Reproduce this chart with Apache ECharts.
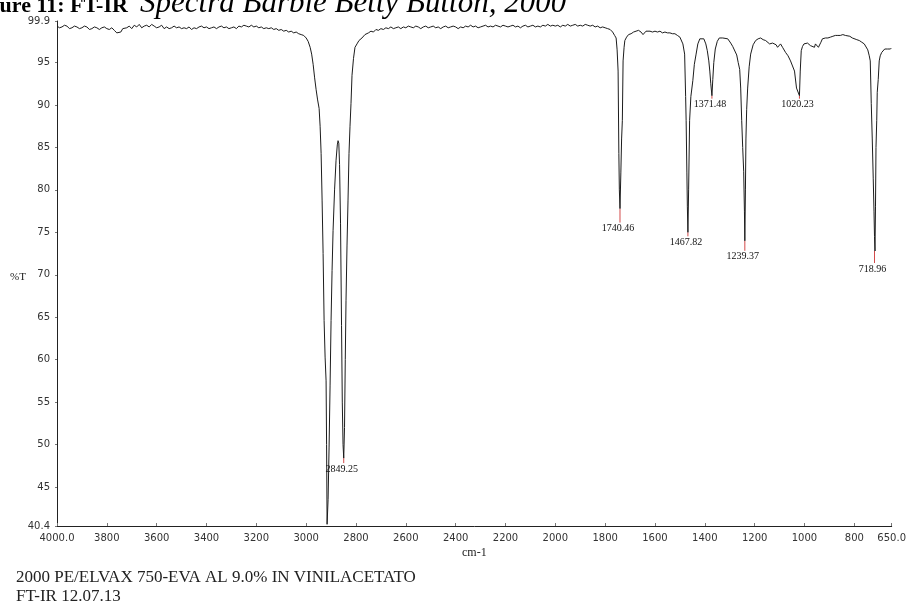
<!DOCTYPE html>
<html>
<head>
<meta charset="utf-8">
<script src="https://cdn.jsdelivr.net/npm/echarts@6/dist/echarts.min.js"></script>
<style>
  html, body { margin: 0; padding: 0; background: #fff; }
  #chart { width: 909px; height: 603px; }
</style>
</head>
<body>
<div id="chart"></div>
<script>
// FT-IR spectrum, wavenumber (cm-1) vs transmittance (%T)
const wavenumber = [
  4000, 3990, 3980, 3970, 3960, 3950, 3940, 3930, 3920, 3910, 3900, 3890, 3880, 3870, 3860, 3850,
  3840, 3830, 3820, 3810, 3800, 3790, 3780, 3770, 3760, 3752, 3744, 3736, 3728, 3720, 3710, 3700,
  3690, 3680, 3670, 3660, 3650, 3640, 3630, 3620, 3610, 3600, 3590, 3580, 3570, 3560, 3550, 3540,
  3530, 3520, 3510, 3500, 3490, 3480, 3470, 3460, 3450, 3440, 3430, 3420, 3410, 3400, 3390, 3380,
  3370, 3360, 3350, 3340, 3330, 3320, 3310, 3300, 3290, 3280, 3270, 3260, 3250, 3240, 3230, 3220,
  3210, 3200, 3190, 3180, 3170, 3160, 3150, 3140, 3130, 3120, 3110, 3100, 3090, 3080, 3070, 3060,
  3050, 3040, 3030, 3020, 3010, 3000, 2992, 2984, 2978, 2972, 2966, 2960, 2954, 2948, 2944, 2940,
  2936, 2932, 2928, 2924, 2920, 2918, 2916, 2915, 2912, 2908, 2904, 2900, 2896, 2892, 2886, 2880,
  2875, 2872, 2869, 2866, 2862, 2858, 2855, 2852, 2849.25, 2846, 2843, 2840, 2836, 2832, 2828, 2824,
  2820, 2816, 2810, 2804, 2796, 2788, 2776, 2764, 2750, 2740, 2730, 2720, 2710, 2700, 2690, 2680,
  2670, 2660, 2650, 2640, 2630, 2620, 2610, 2600, 2590, 2580, 2570, 2560, 2550, 2540, 2530, 2520,
  2510, 2500, 2490, 2480, 2470, 2460, 2450, 2440, 2430, 2420, 2410, 2400, 2390, 2380, 2370, 2360,
  2350, 2340, 2330, 2320, 2310, 2300, 2290, 2280, 2270, 2260, 2250, 2240, 2230, 2220, 2210, 2200,
  2190, 2180, 2170, 2160, 2150, 2140, 2130, 2120, 2110, 2100, 2090, 2080, 2070, 2060, 2050, 2040,
  2030, 2020, 2010, 2000, 1990, 1980, 1970, 1960, 1950, 1940, 1930, 1920, 1910, 1900, 1890, 1880,
  1870, 1860, 1850, 1840, 1830, 1820, 1810, 1800, 1790, 1780, 1770, 1762, 1756, 1752, 1748, 1745,
  1743, 1740.46, 1737, 1734, 1731, 1728, 1724, 1721, 1714, 1706, 1696, 1686, 1676, 1666, 1656, 1648,
  1642, 1636, 1628, 1620, 1610, 1600, 1590, 1580, 1570, 1560, 1550, 1540, 1530, 1520, 1510, 1500,
  1496, 1488, 1481, 1477, 1475, 1472, 1470, 1467.82, 1465, 1461, 1456, 1448, 1442, 1435, 1428, 1420,
  1412, 1404, 1396, 1390, 1384, 1380, 1376, 1371.48, 1368, 1364, 1358, 1350, 1342, 1336, 1328, 1320,
  1308, 1296, 1288, 1280, 1272, 1266, 1260, 1256, 1252, 1248, 1244, 1241, 1239.37, 1237, 1235, 1232,
  1228, 1222, 1216, 1206, 1196, 1186, 1176, 1166, 1156, 1148, 1140, 1136, 1128, 1120, 1114, 1108,
  1102, 1096, 1088, 1076, 1066, 1056, 1048, 1040, 1032, 1026, 1020.23, 1017, 1013, 1008, 1002, 996,
  988, 982, 976, 968, 960, 956, 950, 944, 940, 934, 928, 916, 906, 896, 886, 876,
  866, 856, 846, 836, 828, 818, 808, 800, 790, 780, 770, 760, 752, 746, 740, 736,
  732, 728, 724, 721, 718.96, 717, 715, 713, 710, 708, 704, 700, 696, 690, 684, 678,
  672, 666, 660, 655, 652
];
const transmittance = [
  99.3, 99.1, 99.2, 99.4, 99.3, 99.0, 99.1, 99.3, 99.2, 99.0, 99.1, 99.3, 99.2, 98.9, 99.0, 99.2,
  99.1, 98.9, 99.1, 99.2, 99.0, 98.9, 99.1, 98.8, 98.5, 98.3, 98.6, 99.0, 99.2, 99.1, 99.3, 99.0,
  99.4, 99.2, 99.5, 99.1, 99.3, 99.4, 99.2, 99.5, 99.3, 99.1, 99.2, 99.4, 99.0, 99.2, 99.0, 99.1,
  99.3, 99.1, 99.2, 99.0, 99.1, 99.0, 99.2, 98.9, 99.1, 99.0, 99.2, 99.3, 99.1, 99.2, 99.0, 99.1,
  99.2, 99.0, 99.2, 99.3, 99.1, 99.2, 99.0, 99.1, 99.2, 99.0, 99.3, 99.2, 99.4, 99.3, 99.2, 99.4,
  99.2, 99.3, 99.1, 99.2, 99.0, 99.1, 99.0, 99.1, 98.9, 99.0, 98.8, 98.9, 98.7, 98.8, 98.6, 98.7,
  98.5, 98.6, 98.4, 98.3, 98.2, 97.9, 97.5, 96.8, 96.0, 94.8, 93.2, 91.8, 90.6, 89.6, 87.5, 84.3,
  78.8, 72.5, 64.6, 60.3, 57.5, 50.0, 40.6, 40.4, 43.5, 49.7, 57.0, 64.6, 70.5, 75.2, 80.0, 83.5,
  85.3, 85.8, 85.5, 83.0, 76.0, 64.0, 55.0, 50.0, 48.4, 52.0, 60.0, 67.0, 73.5, 78.8, 84.3, 87.5,
  90.2, 93.5, 95.5, 96.8, 97.2, 97.6, 97.9, 98.3, 98.5, 98.7, 98.6, 98.9, 98.8, 99.0, 98.9, 99.1,
  99.0, 99.2, 99.0, 99.1, 99.2, 99.0, 99.2, 99.1, 99.3, 99.2, 99.1, 99.3, 99.2, 99.0, 99.2, 99.3,
  99.1, 99.2, 99.3, 99.1, 99.2, 99.0, 99.2, 99.3, 99.1, 99.2, 99.3, 99.2, 99.0, 99.2, 99.1, 99.3,
  99.2, 99.4, 99.2, 99.3, 99.1, 99.2, 99.3, 99.4, 99.2, 99.3, 99.2, 99.4, 99.3, 99.2, 99.4, 99.3,
  99.2, 99.3, 99.4, 99.2, 99.3, 99.1, 99.3, 99.4, 99.2, 99.3, 99.4, 99.2, 99.3, 99.2, 99.4, 99.3,
  99.5, 99.3, 99.4, 99.3, 99.4, 99.2, 99.4, 99.3, 99.5, 99.3, 99.4, 99.5, 99.3, 99.4, 99.3, 99.5,
  99.4, 99.3, 99.4, 99.2, 99.3, 99.1, 99.2, 99.1, 99.0, 98.9, 98.6, 98.2, 97.9, 96.5, 94.0, 84.3,
  80.0, 77.8, 82.0, 86.0, 88.2, 95.2, 96.8, 97.6, 98.0, 98.3, 98.4, 98.6, 98.7, 98.8, 98.6, 98.3,
  98.5, 98.7, 98.6, 98.7, 98.6, 98.7, 98.6, 98.7, 98.5, 98.6, 98.5, 98.5, 98.4, 98.4, 98.2, 98.0,
  97.9, 97.2, 96.0, 91.0, 88.2, 82.0, 78.0, 75.0, 80.0, 88.2, 91.0, 92.9, 94.8, 96.0, 97.2, 97.8,
  97.9, 97.8, 97.2, 96.4, 95.2, 94.0, 92.5, 91.1, 93.0, 95.0, 96.6, 97.5, 97.9, 98.0, 97.9, 97.8,
  97.8, 97.3, 96.9, 96.8, 95.9, 95.0, 94.2, 92.0, 88.2, 85.0, 82.2, 77.5, 74.0, 80.0, 86.0, 89.5,
  92.0, 94.5, 96.0, 97.1, 97.6, 97.8, 97.9, 97.7, 97.6, 97.4, 97.2, 97.0, 97.3, 97.4, 97.1, 96.8,
  97.0, 97.2, 96.8, 96.2, 95.8, 95.2, 94.6, 94.0, 92.0, 91.8, 91.1, 94.0, 96.4, 96.9, 97.2, 97.3,
  97.3, 97.1, 97.0, 96.9, 96.8, 97.2, 97.0, 96.8, 96.8, 97.4, 97.8, 97.9, 97.9, 98.0, 98.1, 98.2,
  98.2, 98.2, 98.3, 98.2, 98.2, 98.1, 97.9, 97.8, 97.7, 97.6, 97.4, 97.2, 97.0, 96.5, 95.8, 95.2,
  90.2, 86.0, 81.3, 77.5, 74.5, 72.8, 78.0, 85.0, 88.2, 91.5, 93.0, 95.2, 95.8, 96.2, 96.4, 96.6,
  96.5, 96.6, 96.7, 96.6, 96.7, 96.7
];

// Labelled absorption maxima
const peakWavenumber = [2849.25, 1740.46, 1467.82, 1371.48, 1239.37, 1020.23, 718.96];
const peakTransmittance = [48.4, 77.8, 75.0, 91.1, 74.0, 91.1, 72.8];

// Axis ticks
const xTickValues = [4000, 3800, 3600, 3400, 3200, 3000, 2800, 2600, 2400, 2200, 2000, 1800, 1600, 1400, 1200, 1000, 800, 650];
const xTickLabels = ['4000.0', '3800', '3600', '3400', '3200', '3000', '2800', '2600', '2400', '2200', '2000', '1800', '1600', '1400', '1200', '1000', '800', '650.0'];
const yTickValues = [40.4, 45, 50, 55, 60, 65, 70, 75, 80, 85, 90, 95, 99.9];
const yTickLabels = ['40.4', '45', '50', '55', '60', '65', '70', '75', '80', '85', '90', '95', '99.9'];

// Length of the red leader under each peak label (px)
const leaderLength = [5, 14, 4, 3, 10, 3, 12];

const spectrum = wavenumber.map((w, i) => [w, transmittance[i]]);
const peaks = peakWavenumber.map((w, i) => [w, peakTransmittance[i], i]);

const chart = echarts.init(document.getElementById('chart'), null, { renderer: 'canvas' });

const axisFont = { fontFamily: 'DejaVu Sans', fontSize: 10, color: '#333' };

chart.setOption({
  animation: false,
  backgroundColor: '#fff',
  grid: { left: 57, right: 15, top: 21, bottom: 77 },
  xAxis: {
    type: 'value',
    inverse: true,
    min: 650,
    max: 4000,
    axisLine: { show: true, lineStyle: { color: '#222', width: 1 } },
    axisTick: { show: true, inside: true, length: 3, customValues: xTickValues, lineStyle: { color: '#777' } },
    axisLabel: Object.assign({
      customValues: xTickValues,
      margin: 7,
      formatter: v => xTickLabels[xTickValues.indexOf(v)]
    }, axisFont),
    splitLine: { show: false }
  },
  yAxis: {
    type: 'value',
    min: 40.4,
    max: 99.9,
    axisLine: { show: true, lineStyle: { color: '#222', width: 1 } },
    axisTick: { show: true, length: 2, customValues: yTickValues, lineStyle: { color: '#777' } },
    axisLabel: Object.assign({
      customValues: yTickValues,
      margin: 7,
      padding: [0, 0, 7, 0],
      formatter: v => yTickLabels[yTickValues.indexOf(v)]
    }, axisFont),
    splitLine: { show: false }
  },
  series: [
    {
      type: 'line',
      data: spectrum,
      showSymbol: false,
      smooth: false,
      clip: true,
      lineStyle: { color: '#1c1c1c', width: 1 }
    },
    {
      type: 'custom',
      data: peaks,
      clip: false,
      renderItem: (params, api) => {
        const p = api.coord([api.value(0), api.value(1)]);
        const len = leaderLength[api.value(2)];
        const label = peakWavenumber[api.value(2)].toFixed(2);
        return {
          type: 'group',
          children: [
            {
              type: 'line',
              shape: { x1: p[0], y1: p[1], x2: p[0], y2: p[1] + len },
              style: { stroke: '#d24a4a', lineWidth: 1 }
            },
            {
              type: 'text',
              x: p[0] - 2,
              y: p[1] + len + 1,
              style: {
                text: label,
                fill: '#111',
                font: '10px "Liberation Serif"',
                align: 'center',
                verticalAlign: 'top'
              }
            }
          ]
        };
      }
    }
  ],
  graphic: [
    {
      type: 'text',
      x: -31,
      y: 17,
      style: {
        text: 'Figure 11: FT-IR',
        font: 'bold 22px "Liberation Serif"',
        fill: '#000',
        verticalAlign: 'bottom'
      }
    },
    {
      type: 'text',
      x: 140,
      y: 19,
      style: {
        text: 'Spectra Barbie Betty Button, 2000',
        font: 'italic 31px "Liberation Serif"',
        fill: '#000',
        verticalAlign: 'bottom'
      }
    },
    {
      type: 'text',
      left: 10,
      top: 272,
      style: { text: '%T', font: '11px "Liberation Serif"', fill: '#222' }
    },
    {
      type: 'text',
      left: 462,
      top: 547,
      style: { text: 'cm-1', font: '12px "Liberation Serif"', fill: '#222' }
    },
    {
      type: 'text',
      left: 16,
      top: 569,
      style: { text: '2000 PE/ELVAX 750-EVA AL 9.0% IN VINILACETATO', font: '17px "Liberation Serif"', fill: '#222' }
    },
    {
      type: 'text',
      left: 16,
      top: 588,
      style: { text: 'FT-IR 12.07.13', font: '17px "Liberation Serif"', fill: '#222' }
    }
  ]
});
</script>
</body>
</html>
